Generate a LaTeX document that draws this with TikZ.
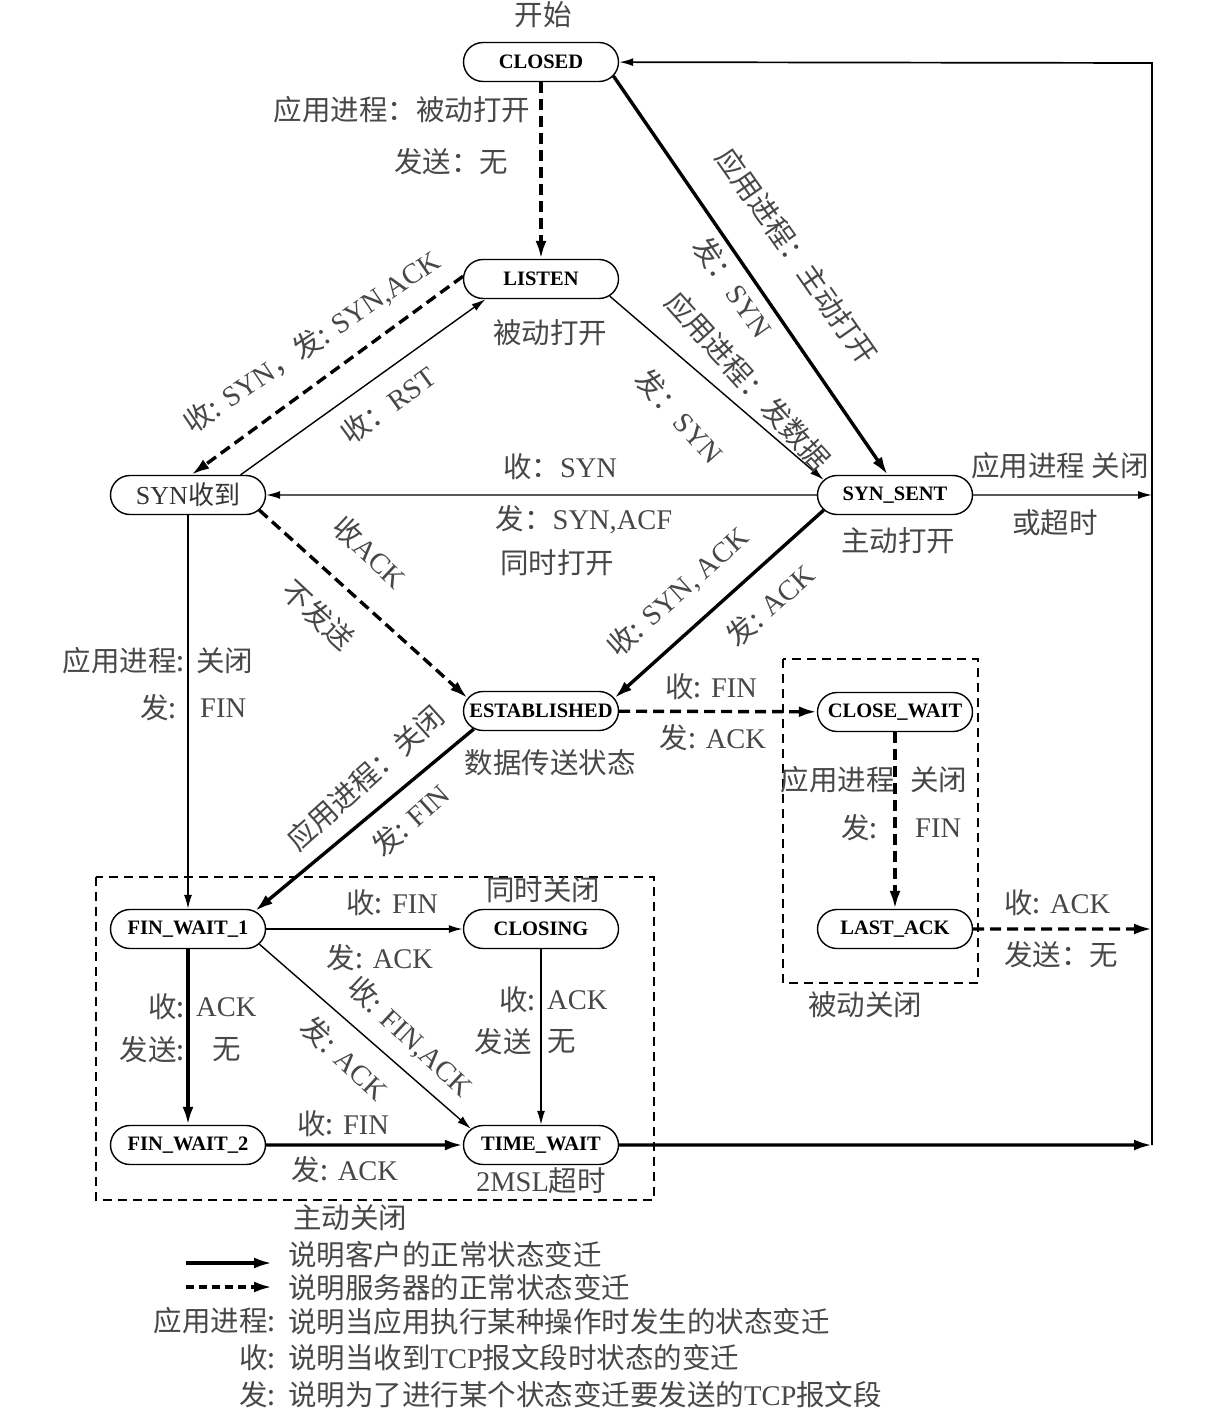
\documentclass[tikz,border=0pt]{standalone}
\usepackage{fontspec}
\setmainfont{Liberation Serif}
\newfontfamily\cjk{Noto Sans CJK SC}
\usetikzlibrary{arrows.meta,shapes.misc}
\newcommand\zh[1]{{\cjk #1}}
\newcommand\mk[1]{\makebox[0pt]{#1}}
\begin{document}
\begin{tikzpicture}[x=1pt,y=-1pt,
 state/.style={draw, rounded rectangle, line width=1.4pt, minimum width=155pt, minimum height=39pt, inner sep=0pt, font=\fontsize{20.5}{24}\selectfont\bfseries},
 lab/.style={inner sep=0pt, text=black!72, font=\fontsize{28.5}{32}\selectfont},
 cli/.style={line width=3.4pt, -{Latex[length=18pt,width=11pt]}},
 srv/.style={line width=3.4pt, dash pattern=on 11pt off 6pt, -{Latex[length=18pt,width=11pt]}},
 oth/.style={line width=1.4pt, -{Latex[length=14pt,width=8pt]}},
 boxd/.style={line width=1.2pt, dash pattern=on 9pt off 6pt}
]
\useasboundingbox (0,0) rectangle (1224,1420);
% states
\node[lab] (start) at (543,15) {\zh{开始}};
\node[state] (CLOSED) at (541,62) {\mk{CLOSED}};
\node[state] (LISTEN) at (541,279) {\mk{LISTEN}};
\node[state, font=\fontsize{26}{30}\selectfont, text=black!80] (SYNR) at (188,495) {\mk{SYN\zh{收到}}};
\node[state] (SYNS) at (895,495) {\mk{SYN\_SENT}};
\node[state] (EST) at (541,711) {\mk{ESTABLISHED}};
\node[state] (CW) at (895,712) {\mk{CLOSE\_WAIT}};
\node[state] (FW1) at (188,929) {\mk{FIN\_WAIT\_1}};
\node[state] (CLOSING) at (541,929) {\mk{CLOSING}};
\node[state] (LA) at (895,929) {\mk{LAST\_ACK}};
\node[state] (FW2) at (188,1145) {\mk{FIN\_WAIT\_2}};
\node[state] (TW) at (541,1145) {\mk{TIME\_WAIT}};
% boxes
\draw[boxd] (96,877) rectangle (654,1200);
\draw[boxd] (783,659) rectangle (978,983);
% right line coordinates
\coordinate (R1) at (1152,63);
\coordinate (R2) at (1152,495);
\coordinate (R3) at (1152,929);
\coordinate (R4) at (1152,1145);
% edges
\draw[srv] (CLOSED) -- (LISTEN);
\draw[cli] (CLOSED.-11) -- (SYNS.110);
\draw[oth] (LISTEN.-14) -- (SYNS.168);
\draw[srv] (LISTEN.178) -- (SYNR.80);
\draw[oth] (SYNR.21) -- (LISTEN.200);
\draw[oth] (SYNS) -- (SYNR);
\draw[srv] (SYNR.-12) -- (EST.170);
\draw[cli] (SYNS.192) -- (EST.10);
\draw[srv] (EST) -- (CW);
\draw[cli] (EST.195) -- (FW1.15);
\draw[oth] (SYNR) -- (FW1);
\draw[srv] (CW) -- (LA);
\draw[srv] (LA) -- (R3);
\draw[oth, line width=1.8pt] (FW1) -- (CLOSING);
\draw[cli] (FW1) -- (FW2);
\draw[oth] (FW1.-12) -- (TW.167);
\draw[oth] (CLOSING) -- (TW);
\draw[cli] (FW2) -- (TW);
\draw[cli] (TW) -- (R4);
\draw[oth] (SYNS) -- (R2);
\draw[oth, line width=1.7pt] (R4) -- (R1) -- (CLOSED);
% labels
\node[lab] (l1) at (402,110) {\zh{应用进程：被动打开}};
\node[lab] (l2) at (451,162) {\zh{发送：无}};
\node[lab, rotate=-55] (l3) at (797,256) {\zh{应用进程：主动打开}};
\node[lab, rotate=-55] (l4) at (733,287) {\zh{发：}SYN};
\node[lab, rotate=-48] (l5) at (748,381) {\zh{应用进程：发数据}};
\node[lab, rotate=-48] (l6) at (680,416) {\zh{发：}SYN};
\node[lab, rotate=34] (l7) at (312,342) {\zh{收:} SYN\zh{，发:} SYN,ACK};
\node[lab, rotate=36] (l8) at (388,405) {\zh{收：}RST};
\node[lab] (l9) at (550,333) {\zh{被动打开}};
\node[lab] (l10) at (560,467) {\zh{收：}SYN};
\node[lab] (l11) at (584,520) {\zh{发：}SYN,ACF};
\node[lab] (l12) at (557,563) {\zh{同时打开}};
\node[lab] (l13) at (898,541) {\zh{主动打开}};
\node[lab] (l14) at (1060,466) {\zh{应用进程 关闭}};
\node[lab] (l15) at (1055,523) {\zh{或超时}};
\node[lab, rotate=-43] (l16) at (370,552) {\zh{收}ACK};
\node[lab, rotate=-43] (l17) at (318,615) {\zh{不发送}};
\node[lab, rotate=42] (l18) at (678,592) {\zh{收:} SYN, ACK};
\node[lab, rotate=42] (l19) at (770,605) {\zh{发:} ACK};
\node[lab, anchor=east] (l20) at (185,661) {\zh{应用进程:}};
\node[lab, anchor=west] (l21) at (196,661) {\zh{关闭}};
\node[lab, anchor=east] (l22) at (177,708) {\zh{发:}};
\node[lab, anchor=west] (l23) at (200,708) {FIN};
\node[lab] (l24) at (711,687) {\zh{收:} FIN};
\node[lab] (l25) at (713,738) {\zh{发:} ACK};
\node[lab] (l26) at (550,763) {\zh{数据传送状态}};
\node[lab, rotate=42] (l27) at (365,778) {\zh{应用进程：关闭}};
\node[lab, rotate=42] (l28) at (410,820) {\zh{发:} FIN};
\node[lab, anchor=east] (l29) at (895,780) {\zh{应用进程}};
\node[lab, anchor=west] (l30) at (910,780) {\zh{关闭}};
\node[lab, anchor=east] (l31) at (878,828) {\zh{发:}};
\node[lab, anchor=west] (l32) at (915,828) {FIN};
\node[lab, anchor=west] (l33) at (1004,903) {\zh{收:} ACK};
\node[lab, anchor=west] (l34) at (1004,955) {\zh{发送：无}};
\node[lab] (l35) at (865,1005) {\zh{被动关闭}};
\node[lab] (l36) at (392,903) {\zh{收:} FIN};
\node[lab] (l37) at (380,958) {\zh{发:} ACK};
\node[lab] (l38) at (543,890) {\zh{同时关闭}};
\node[lab, anchor=east] (l39) at (185,1007) {\zh{收:}};
\node[lab, anchor=west] (l40) at (196,1007) {ACK};
\node[lab, anchor=east] (l41) at (185,1050) {\zh{发送:}};
\node[lab, anchor=west] (l42) at (212,1050) {\zh{无}};
\node[lab, rotate=-43] (l43) at (410,1037) {\zh{收:} FIN,ACK};
\node[lab, rotate=-43] (l44) at (345,1058) {\zh{发:} ACK};
\node[lab, anchor=east] (l45) at (536,1000) {\zh{收:}};
\node[lab, anchor=west] (l46) at (547,1000) {ACK};
\node[lab, anchor=east] (l47) at (532,1042) {\zh{发送}};
\node[lab, anchor=west] (l48) at (547,1042) {\zh{无}};
\node[lab] (l49) at (343,1124) {\zh{收:} FIN};
\node[lab] (l50) at (345,1170) {\zh{发:} ACK};
\node[lab] (l51) at (541,1181) {2MSL\zh{超时}};
\node[lab] (l52) at (350,1218) {\zh{主动关闭}};
% legend
\coordinate (La) at (186,1263);
\coordinate (Lb) at (272,1263);
\coordinate (Lc) at (186,1287);
\coordinate (Ld) at (272,1287);
\draw[cli] (La) -- (Lb);
\draw[srv, dash pattern=on 8pt off 5pt] (Lc) -- (Ld);
\node[lab, anchor=west] (g1) at (288,1255) {\zh{说明客户的正常状态变迁}};
\node[lab, anchor=west] (g2) at (288,1288) {\zh{说明服务器的正常状态变迁}};
\node[lab, anchor=east] (g3) at (276,1321) {\zh{应用进程:}};
\node[lab, anchor=west] (g4) at (288,1322) {\zh{说明当应用执行某种操作时发生的状态变迁}};
\node[lab, anchor=east] (g5) at (276,1358) {\zh{收:}};
\node[lab, anchor=west] (g6) at (288,1358) {\zh{说明当收到}TCP\zh{报文段时状态的变迁}};
\node[lab, anchor=east] (g7) at (276,1395) {\zh{发:}};
\node[lab, anchor=west] (g8) at (288,1395) {\zh{说明为了进行某个状态变迁要发送的}TCP\zh{报文段}};
\end{tikzpicture}
\end{document}
